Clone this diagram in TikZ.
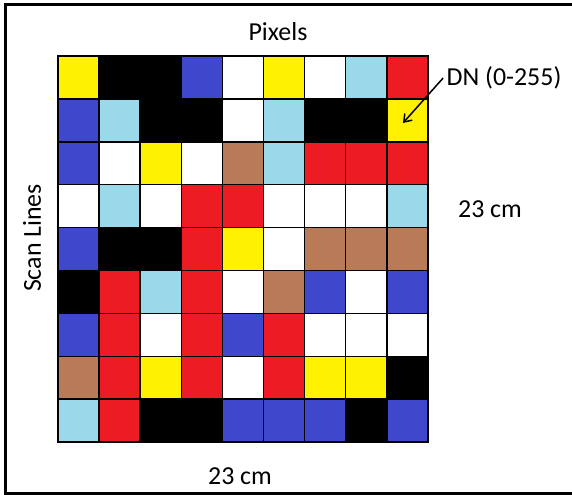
\documentclass[tikz,border=0pt]{standalone}
\usepackage{fontspec}
\setmainfont{Carlito}
\usetikzlibrary{arrows.meta,positioning}

\definecolor{cY}{RGB}{255,242,0}
\definecolor{cK}{RGB}{0,0,0}
\definecolor{cB}{RGB}{63,72,204}
\definecolor{cW}{RGB}{255,255,255}
\definecolor{cL}{RGB}{153,217,234}
\definecolor{cR}{RGB}{237,28,36}
\definecolor{cN}{RGB}{185,122,87}

\begin{document}
\begin{tikzpicture}[x=1bp, y=-1bp, every node/.style={font=\fontsize{26}{30}\selectfont}]
  \useasboundingbox (0,0) rectangle (572,495);
  \draw[line width=3bp] (572,4.5) -- (5.5,4.5) -- (5.5,493.5) -- (572,493.5);
  % 9 x 9 raster of pixels
  \foreach \r/\row in {0/{cY,cK,cK,cB,cW,cY,cW,cL,cR},
                       1/{cB,cL,cK,cK,cW,cL,cK,cK,cY},
                       2/{cB,cW,cY,cW,cN,cL,cR,cR,cR},
                       3/{cW,cL,cW,cR,cR,cW,cW,cW,cL},
                       4/{cB,cK,cK,cR,cY,cW,cN,cN,cN},
                       5/{cK,cR,cL,cR,cW,cN,cB,cW,cB},
                       6/{cB,cR,cW,cR,cB,cR,cW,cW,cW},
                       7/{cN,cR,cY,cR,cW,cR,cY,cY,cK},
                       8/{cL,cR,cK,cK,cB,cB,cB,cK,cB}} {
    \foreach \c [count=\i from 0] in \row {
      \draw[fill=\c, draw=black, line width=1.5bp]
        (58+\i*41.1,56+\r*42.9) rectangle ++(41.1,42.9);
    }
  }
  \node (pixels) at (278,32) {Pixels};
  \node[rotate=90] (scanlines) at (32,238) {Scan Lines};
  \node (sidelen) at (490,209) {23 cm};
  \node (baselen) at (240,476) {23 cm};
  \node (dn) at (504,78) {DN (0-255)};
  \coordinate (dnpix) at (403,123);
  \draw[line width=1.5bp, -{Straight Barb[length=7bp, width=10bp]}] (dn.west) -- (dnpix);
\end{tikzpicture}
\end{document}
